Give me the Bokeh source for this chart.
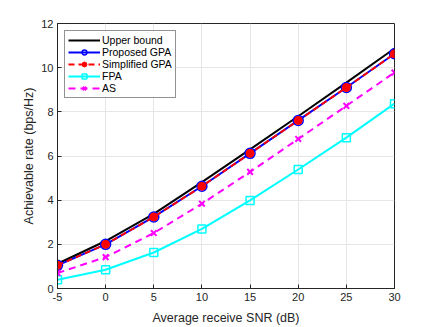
from bokeh.plotting import figure
from bokeh.models import FixedTicker, Range1d
from bokeh.embed import file_html
from bokeh.resources import INLINE

snr = [-5, 0, 5, 10, 15, 20, 25, 30]
upper = [1.12, 2.15, 3.38, 4.82, 6.30, 7.80, 9.32, 10.87]
proposed = [1.05, 2.00, 3.24, 4.63, 6.12, 7.61, 9.10, 10.63]
simplified = [1.05, 2.00, 3.24, 4.63, 6.12, 7.61, 9.10, 10.63]
fpa = [0.40, 0.85, 1.63, 2.70, 3.99, 5.39, 6.83, 8.37]
as_ = [0.70, 1.42, 2.51, 3.84, 5.28, 6.77, 8.27, 9.78]
xticks = [-5, 0, 5, 10, 15, 20, 25, 30]
yticks = [0, 2, 4, 6, 8, 10, 12]

FONT = "Liberation Sans"

p = figure(width=428, height=327, output_backend="svg", toolbar_location=None,
           x_range=Range1d(-5, 30), y_range=Range1d(0, 12),
           min_border_left=57, min_border_right=34, min_border_top=23, min_border_bottom=35)
p.background_fill_color = "white"
p.border_fill_color = "white"
p.outline_line_color = "#262626"
p.outline_line_width = 1

for ax, ticks in ((p.xaxis, xticks), (p.yaxis, yticks)):
    ax.ticker = FixedTicker(ticks=ticks)
    ax.major_tick_in = 4
    ax.major_tick_out = 0
    ax.minor_tick_line_color = None
    ax.axis_line_color = "#262626"
    ax.major_tick_line_color = "#262626"
    ax.major_label_text_font = FONT
    ax.major_label_text_font_size = "11px"
    ax.major_label_text_color = "#262626"
    ax.axis_label_text_font = FONT
    ax.axis_label_text_font_size = "12.5px"
    ax.axis_label_text_font_style = "normal"
    ax.axis_label_text_color = "#262626"

p.xaxis.major_label_overrides = {-5: "-5"}
p.xaxis.axis_label = "Average receive SNR (dB)"
p.yaxis.axis_label = "Achievable rate (bps/Hz)"
p.xaxis.major_label_standoff = 4
p.xaxis.axis_label_standoff = 7
p.yaxis.major_label_standoff = 4
p.yaxis.axis_label_standoff = 2

p.xgrid.ticker = FixedTicker(ticks=xticks)
p.ygrid.ticker = FixedTicker(ticks=yticks)
p.grid.grid_line_color = "#e6e6e6"
p.grid.grid_line_width = 1

p.line(snr, upper, line_color="black", line_width=2, legend_label="Upper bound")

p.line(snr, proposed, line_color="blue", line_width=2, legend_label="Proposed GPA")
p.scatter(snr, proposed, marker="circle", size=10, line_color="blue", line_width=1.5,
          fill_color=None, legend_label="Proposed GPA")

p.line(snr, simplified, line_color="red", line_width=2, line_dash="6 4", legend_label="Simplified GPA")
p.scatter(snr, simplified, marker="circle", size=8, line_color="red", fill_color="red",
          legend_label="Simplified GPA")

p.line(snr, fpa, line_color="cyan", line_width=2, legend_label="FPA")
p.scatter(snr, fpa, marker="square", size=8, line_color="cyan", line_width=1.5,
          fill_color=None, legend_label="FPA")

p.line(snr, as_, line_color="magenta", line_width=2, line_dash="7 5", legend_label="AS")
p.scatter(snr, as_, marker="x", size=8, line_color="magenta", line_width=2,
          legend_label="AS")

lg = p.legend[0]
lg.location = "top_left"
lg.margin = 7
lg.padding = 3
lg.spacing = 0
lg.glyph_width = 32
lg.glyph_height = 12
lg.label_height = 12
lg.label_standoff = 2
lg.label_text_font = FONT
lg.label_text_font_size = "10.5px"
lg.label_text_color = "black"
lg.border_line_color = "#262626"
lg.border_line_width = 1
lg.background_fill_alpha = 1

open("out.html", "w").write(file_html(p, INLINE))
